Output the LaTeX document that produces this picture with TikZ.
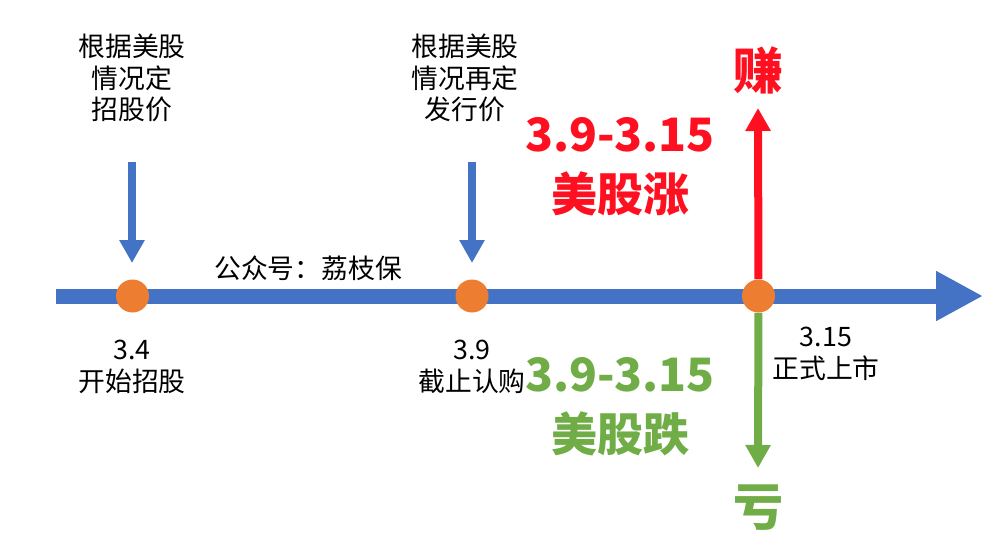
\documentclass[tikz,border=0pt]{standalone}
\usepackage{fontspec}
\setmainfont{Noto Sans CJK SC}
\usetikzlibrary{arrows.meta}
\definecolor{lineblue}{HTML}{4472C4}
\definecolor{dotorange}{HTML}{ED7D31}
\definecolor{upred}{HTML}{FF1020}
\definecolor{downgreen}{HTML}{70AD47}

\begin{document}
\begin{tikzpicture}[x=0.5pt,y=-0.5pt,
  dot/.style={circle,fill=dotorange,minimum size=16.5pt,inner sep=0pt},
  note/.style={align=center,inner sep=0pt,font=\fontsize{13.4}{15.7}\selectfont},
  big/.style={align=center,inner sep=0pt,font=\fontsize{23}{30}\selectfont\bfseries},
  pointer/.style={line width=4pt,-{Triangle[width=12pt,length=11.5pt]}}]
\useasboundingbox (0,0) rectangle (1000,556);

\coordinate (s) at (56,296);
\coordinate (e) at (983,296);
\path[draw,line width=7.5pt,lineblue,-{Triangle[width=23.5pt,length=23.5pt]}] (s) -- (e);

\node[dot] (a) at (132.5,296) {};
\node[dot] (b) at (472,296) {};
\node[dot] (c) at (758.5,296) {};

\node[note] (pa) at (132,78) {根据美股\\情况定\\招股价};
\node[note] (pb) at (465,78) {根据美股\\情况再定\\发行价};
\coordinate (ua) at (132,162);
\coordinate (ta) at (132,263);
\coordinate (ub) at (472,162);
\coordinate (tb) at (472,263);
\path[draw,pointer,lineblue] (ua) -- (ta);
\path[draw,pointer,lineblue] (ub) -- (tb);

\node[note] (w) at (308,268) {公众号：荔枝保};
\node[note] (da) at (132,367) {3.4\\开始招股};
\node[note] (db) at (472,367) {3.9\\截止认购};
\node[note] (dc) at (826,354) {3.15\\正式上市};

\coordinate (tr) at (758,108);
\coordinate (tg) at (758,468);
\path[draw,pointer,upred] (c) -- (tr);
\path[draw,pointer,downgreen] (c) -- (tg);

\node[big,text=upred,font=\fontsize{25}{30}\selectfont\bfseries] (z) at (758,70) {赚};
\node[big,text=downgreen,font=\fontsize{25}{30}\selectfont\bfseries] (k) at (758,508) {亏};
\node[big,text=upred] (r) at (620,167) {3.9-3.15\\美股涨};
\node[big,text=downgreen] (g) at (620,407) {3.9-3.15\\美股跌};
\end{tikzpicture}
\end{document}
